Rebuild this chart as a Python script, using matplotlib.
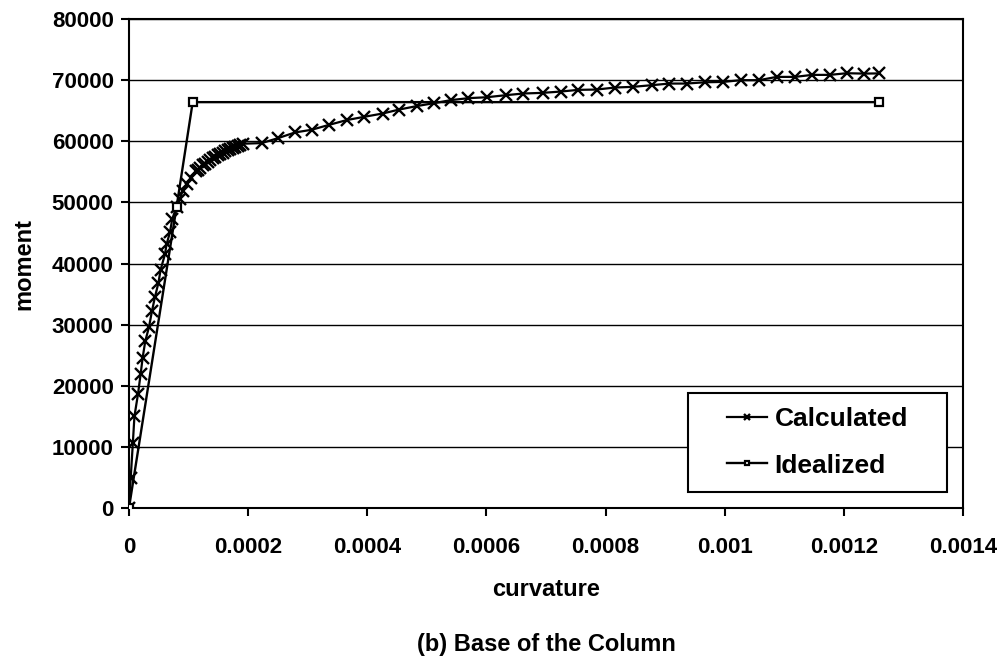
import matplotlib
matplotlib.use("Agg")
import matplotlib.pyplot as plt
from matplotlib.patches import Rectangle

plt.rcParams["font.family"] = ["Liberation Sans", "DejaVu Sans"]
plt.rcParams["font.weight"] = "bold"

# calculated moment-curvature points
calc_curvature = [
    0.0, 2.9e-6, 6.5e-6, 9.2e-6, 1.51e-5, 1.96e-5, 2.30e-5, 2.74e-5, 3.36e-5,
    3.86e-5, 4.36e-5, 4.95e-5, 5.32e-5, 6.04e-5, 6.33e-5, 6.88e-5, 7.27e-5,
    8.01e-5, 8.56e-5, 9.01e-5, 9.69e-5, 1.036e-4, 1.12e-4,
    1.158e-4, 1.200e-4, 1.242e-4, 1.284e-4, 1.326e-4, 1.368e-4, 1.410e-4,
    1.452e-4, 1.494e-4, 1.536e-4, 1.578e-4, 1.620e-4, 1.662e-4, 1.704e-4,
    1.746e-4, 1.788e-4, 1.830e-4, 1.872e-4,
    1.919e-4, 2.228e-4, 2.506e-4, 2.787e-4, 3.067e-4, 3.362e-4, 3.654e-4,
    3.950e-4, 4.259e-4, 4.537e-4, 4.829e-4, 5.125e-4, 5.405e-4, 5.696e-4,
    6.005e-4, 6.328e-4, 6.619e-4, 6.945e-4, 7.247e-4, 7.542e-4, 7.851e-4,
    8.159e-4, 8.455e-4, 8.774e-4, 9.070e-4, 9.362e-4, 9.669e-4, 9.976e-4,
    1.0268e-3, 1.0575e-3, 1.0873e-3, 1.1180e-3, 1.1470e-3, 1.1767e-3,
    1.2048e-3, 1.2343e-3, 1.2590e-3,
]
calc_moment = [
    0, 4850, 10560, 15000, 18600, 21900, 24600, 27300, 29600,
    32200, 34500, 36850, 39000, 41500, 43200, 45100, 47300,
    49300, 50560, 51900, 53000, 54000, 55070,
    55350, 55700, 56050, 56350, 56650, 56950, 57200,
    57450, 57700, 57950, 58150, 58350, 58550, 58750,
    58950, 59100, 59250, 59400,
    59600, 59700, 60520, 61440, 61880, 62690, 63460,
    64000, 64540, 65190, 65750, 66240, 66730, 67050,
    67200, 67540, 67810, 67920, 68130, 68410, 68460,
    68790, 68900, 69170, 69440, 69440, 69650, 69710,
    69990, 69990, 70530, 70530, 70860, 70860,
    71130, 71070, 71100,
]

# idealized bilinear curve
ideal_curvature = [0.0, 8.0e-5, 1.07e-4, 1.259e-3]
ideal_moment = [0, 49300, 66400, 66400]

x_ticks = [0, 0.0002, 0.0004, 0.0006, 0.0008, 0.001, 0.0012, 0.0014]
x_tick_labels = ["0", "0.0002", "0.0004", "0.0006", "0.0008", "0.001", "0.0012", "0.0014"]
y_ticks = [0, 10000, 20000, 30000, 40000, 50000, 60000, 70000, 80000]

fig = plt.figure(figsize=(10.02, 6.6), dpi=100)
ax = fig.add_axes([0.1287, 0.2303, 0.8323, 0.7409])

ax.plot(calc_curvature, calc_moment, color="black", linewidth=1.6,
        marker="x", markersize=9, markeredgewidth=1.7, label="Calculated", zorder=3)
ax.plot(ideal_curvature, ideal_moment, color="black", linewidth=1.7,
        marker="s", markersize=6, markerfacecolor="white", markeredgewidth=1.6,
        label="Idealized", zorder=4)

ax.set_xlim(0, 0.0014)
ax.set_ylim(0, 80000)
ax.set_xticks(x_ticks)
ax.set_xticklabels(x_tick_labels)
ax.set_yticks(y_ticks)
ax.set_yticklabels([str(v) for v in y_ticks])
ax.tick_params(axis="both", direction="out", length=6, width=1.5, labelsize=16)
ax.tick_params(axis="x", pad=15)
ax.tick_params(axis="y", pad=5)
ax.grid(axis="y", color="black", linewidth=1.0)
ax.set_axisbelow(True)
for s in ax.spines.values():
    s.set_linewidth(1.5)
    s.set_color("black")

ax.set_xlabel("curvature", fontsize=17, fontweight="bold", labelpad=14)
ax.set_ylabel("moment", fontsize=17, fontweight="bold", labelpad=12)

# legend box drawn as a plain rectangle, entries inside it
box = Rectangle((0.670, 0.033), 0.311, 0.202, transform=ax.transAxes,
                facecolor="white", edgecolor="black", linewidth=1.5, zorder=5)
ax.add_patch(box)
leg = ax.legend(loc="center", bbox_to_anchor=(0.8255, 0.134), frameon=False,
                prop={"size": 19, "weight": "bold"}, handlelength=1.5,
                handletextpad=0.3, labelspacing=0.85, markerscale=0.55)
leg.set_zorder(6)

fig.text(0.545, 0.024, "(b) Base of the Column", ha="center", va="center",
         fontsize=17, fontweight="bold")

fig.savefig("out.png", dpi=100)
